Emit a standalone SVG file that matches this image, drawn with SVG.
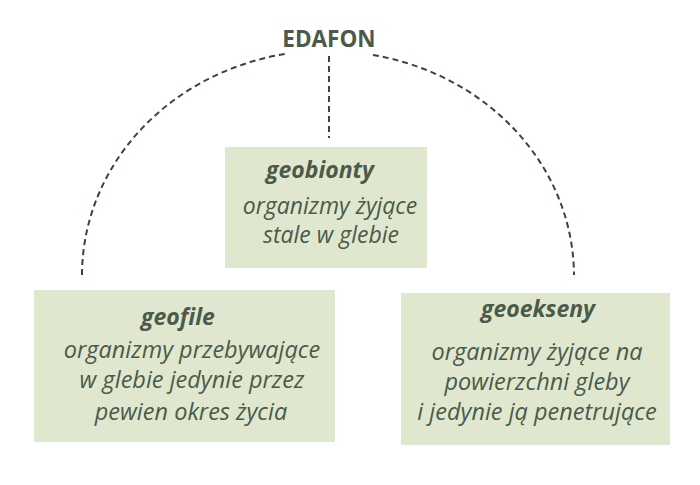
<svg xmlns="http://www.w3.org/2000/svg" width="700" height="485" viewBox="0 0 700 485">
<style>
.box{fill:#dfe8cf}
.t{font-family:"Open Sans","Noto Sans",sans-serif;fill:#4b5a49;text-anchor:middle}
.h{font-weight:bold;font-style:italic;font-size:23px}
.d{font-style:italic;font-size:23.5px}
.c{fill:none;stroke:#4a3f35;stroke-width:2;stroke-dasharray:6 4}
</style>
<rect width="700" height="485" fill="#ffffff"/>
<g id="connectors">
<path class="c" d="M82 275 A246 225 0 0 1 285 54"/>
<path class="c" d="M373 55 A246 225 0 0 1 574 275"/>
<path class="c" d="M329 56 L329 138"/>
</g>
<g id="edafon">
<text class="t" x="329" y="47" style="font-weight:bold;font-size:22.5px">EDAFON</text>
</g>
<g id="geobionty">
<rect class="box" x="225" y="147" width="202" height="121"/>
<text class="t h" x="320" y="178">geobionty</text>
<text class="t d" x="330" y="214" style="font-size:23px">organizmy żyjące</text>
<text class="t d" x="331" y="243" style="font-size:23px">stale w glebie</text>
</g>
<g id="geofile">
<rect class="box" x="34" y="290" width="301" height="152"/>
<text class="t h" x="178" y="325">geofile</text>
<text class="t d" x="192" y="358">organizmy przebywające</text>
<text class="t d" x="192" y="388">w glebie jedynie przez</text>
<text class="t d" x="191" y="420">pewien okres życia</text>
</g>
<g id="geoekseny">
<rect class="box" x="401" y="293" width="269" height="152"/>
<text class="t h" x="538" y="317">geoekseny</text>
<text class="t d" x="537" y="360">organizmy żyjące na</text>
<text class="t d" x="537" y="390">powierzchni gleby</text>
<text class="t d" x="537" y="420">i jedynie ją penetrujące</text>
</g>
</svg>
